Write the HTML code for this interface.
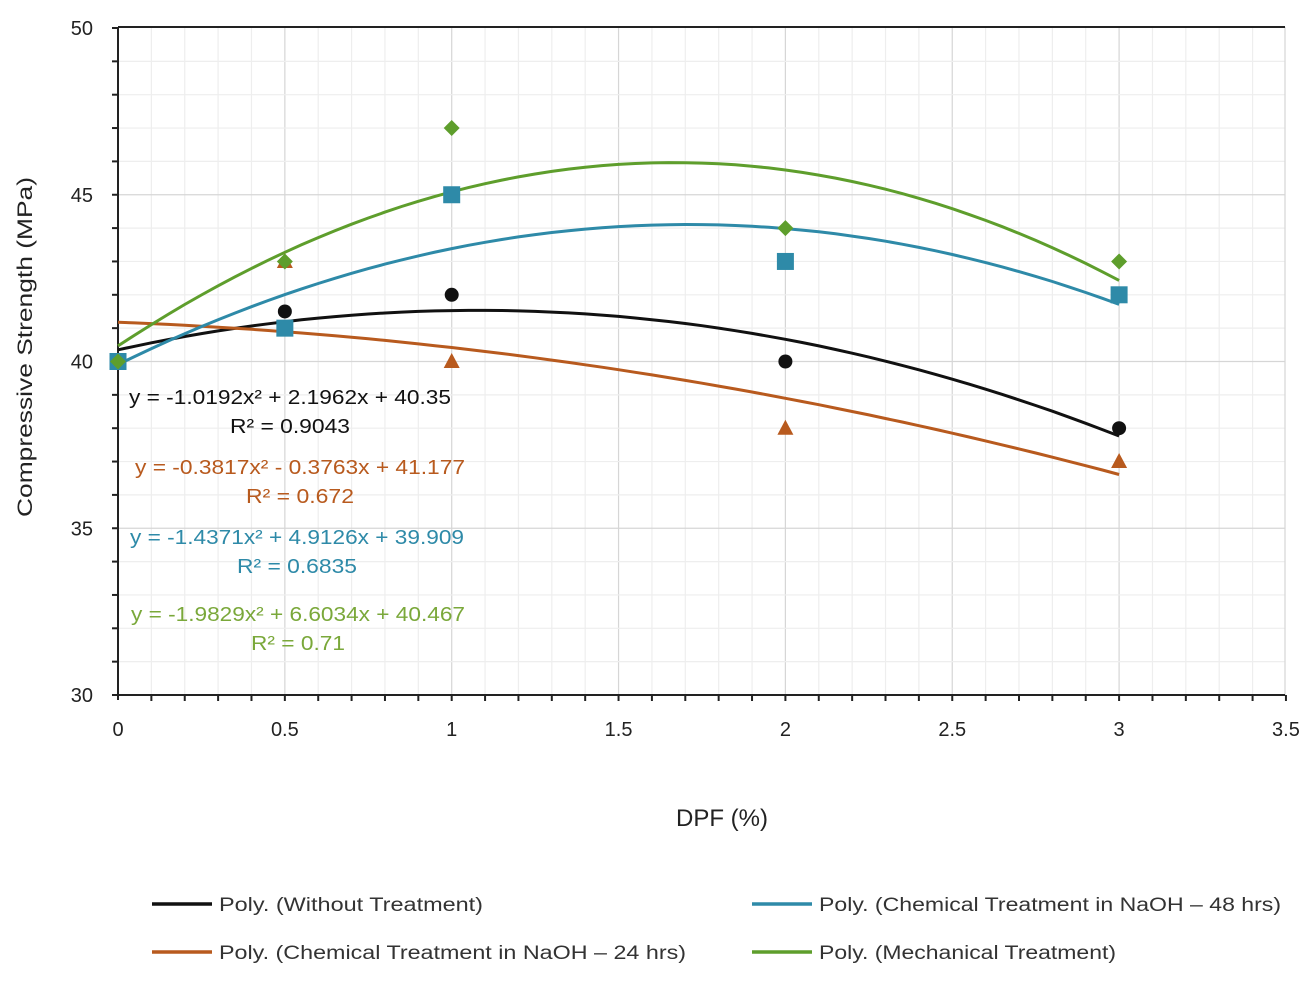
<!DOCTYPE html>
<html><head><meta charset="utf-8"><style>
body{margin:0;background:#fff;}
svg{font-family:"Liberation Sans",sans-serif;}
</style></head><body>
<svg id="s" width="1314" height="983" xmlns="http://www.w3.org/2000/svg"></svg>
<script>
const s=document.getElementById('s');
const X=x=>118+x*333.7, Y=y=>695-(y-30)*33.35;
let h='';
for(let i=1;i<35;i++){const x=X(i/10);h+=`<line x1="${x}" y1="27" x2="${x}" y2="695" stroke="${i%5?'#eeeeee':'#d6d6d6'}" stroke-width="1.2"/>`;}
for(let i=31;i<50;i++){const y=Y(i);h+=`<line x1="118" y1="${y}" x2="1285" y2="${y}" stroke="${i%5?'#eeeeee':'#d6d6d6'}" stroke-width="1.2"/>`;}
h+=`<line x1="1285" y1="27" x2="1285" y2="695" stroke="#d6d6d6" stroke-width="1.2"/>`;
h+=`<line x1="118" y1="27" x2="1285" y2="27" stroke="#222" stroke-width="2"/>`;
h+=`<line x1="118" y1="27" x2="118" y2="700" stroke="#222" stroke-width="2"/>`;
h+=`<line x1="113" y1="695" x2="1285" y2="695" stroke="#222" stroke-width="2"/>`;
for(let i=1;i<=35;i++){const x=X(i/10);h+=`<line x1="${x}" y1="695" x2="${x}" y2="701" stroke="#222" stroke-width="2"/>`;}
for(let i=30;i<=50;i++){const y=Y(i);h+=`<line x1="112" y1="${y}" x2="118" y2="${y}" stroke="#222" stroke-width="2"/>`;}
for(let v=30;v<=50;v+=5)h+=`<text x="93" y="${Y(v)+7}" font-size="20" text-anchor="end" fill="#222">${v}</text>`;
['0','0.5','1','1.5','2','2.5','3','3.5'].forEach((t,i)=>h+=`<text x="${X(i/2)}" y="736" font-size="20" text-anchor="middle" fill="#222">${t}</text>`);
h+=`<text x="722" y="826" font-size="24" text-anchor="middle" fill="#222">DPF (%)</text>`;
h+=`<text transform="translate(32,347) rotate(-90)" font-size="21" text-anchor="middle" fill="#222" textLength="340" lengthAdjust="spacingAndGlyphs">Compressive Strength  (MPa)</text>`;
const ser=[
 {c:'#111',a:-1.0192,b:2.1962,k:40.35,m:'o',d:[40,41.5,42,40,38]},
 {c:'#b85a1e',a:-0.3817,b:-0.3763,k:41.177,m:'t',d:[40,43,40,38,37]},
 {c:'#2e8aa8',a:-1.4371,b:4.9126,k:39.909,m:'s',d:[40,41,45,43,42]},
 {c:'#5e9e2c',a:-1.9829,b:6.6034,k:40.467,m:'d',d:[40,43,47,44,43]}];
const xs=[0,0.5,1,2,3];
ser.forEach(o=>{let p='';for(let i=0;i<=60;i++){const x=i*0.05;p+=(i?'L':'M')+X(x).toFixed(1)+' '+Y(o.a*x*x+o.b*x+o.k).toFixed(1);}
h+=`<path d="${p}" fill="none" stroke="${o.c}" stroke-width="3"/>`;});
ser.forEach(o=>{o.d.forEach((v,i)=>{const x=X(xs[i]),y=Y(v);
 if(o.m=='o')h+=`<circle cx="${x}" cy="${y}" r="7" fill="${o.c}"/>`;
 if(o.m=='t')h+=`<polygon points="${x},${y-8.5} ${x-8},${y+6.5} ${x+8},${y+6.5}" fill="${o.c}"/>`;
 if(o.m=='s')h+=`<rect x="${x-8.5}" y="${y-8.5}" width="17" height="17" fill="${o.c}"/>`;
 if(o.m=='d')h+=`<polygon points="${x},${y-8} ${x+8},${y} ${x},${y+8} ${x-8},${y}" fill="${o.c}"/>`;
});});
const eq=[['#111','y = -1.0192x² + 2.1962x + 40.35','R² = 0.9043',290,404,322,120],
['#b85a1e','y = -0.3817x² - 0.3763x + 41.177','R² = 0.672',300,474,330,108],
['#2e8aa8','y = -1.4371x² + 4.9126x + 39.909','R² = 0.6835',297,544,334,120],
['#7aa83a','y = -1.9829x² + 6.6034x + 40.467','R² = 0.71',298,621,334,94]];
eq.forEach(e=>{h+=`<text x="${e[3]}" y="${e[4]}" font-size="20" text-anchor="middle" fill="${e[0]}" textLength="${e[5]}" lengthAdjust="spacingAndGlyphs">${e[1]}</text><text x="${e[3]}" y="${e[4]+29}" font-size="20" text-anchor="middle" fill="${e[0]}" textLength="${e[6]}" lengthAdjust="spacingAndGlyphs">${e[2]}</text>`;});
const lg=[['#111','Poly. (Without Treatment)',152,904,264],['#2e8aa8','Poly. (Chemical Treatment in NaOH – 48 hrs)',752,904,462],
['#b85a1e','Poly. (Chemical  Treatment in NaOH – 24 hrs)',152,952,467],['#5e9e2c','Poly. (Mechanical Treatment)',752,952,297]];
lg.forEach(l=>{h+=`<line x1="${l[2]}" y1="${l[3]}" x2="${l[2]+60}" y2="${l[3]}" stroke="${l[0]}" stroke-width="3.5"/><text x="${l[2]+67}" y="${l[3]+7}" font-size="19" fill="#333" textLength="${l[4]}" lengthAdjust="spacingAndGlyphs">${l[1]}</text>`;});
s.innerHTML=h;
</script>
</body></html>
